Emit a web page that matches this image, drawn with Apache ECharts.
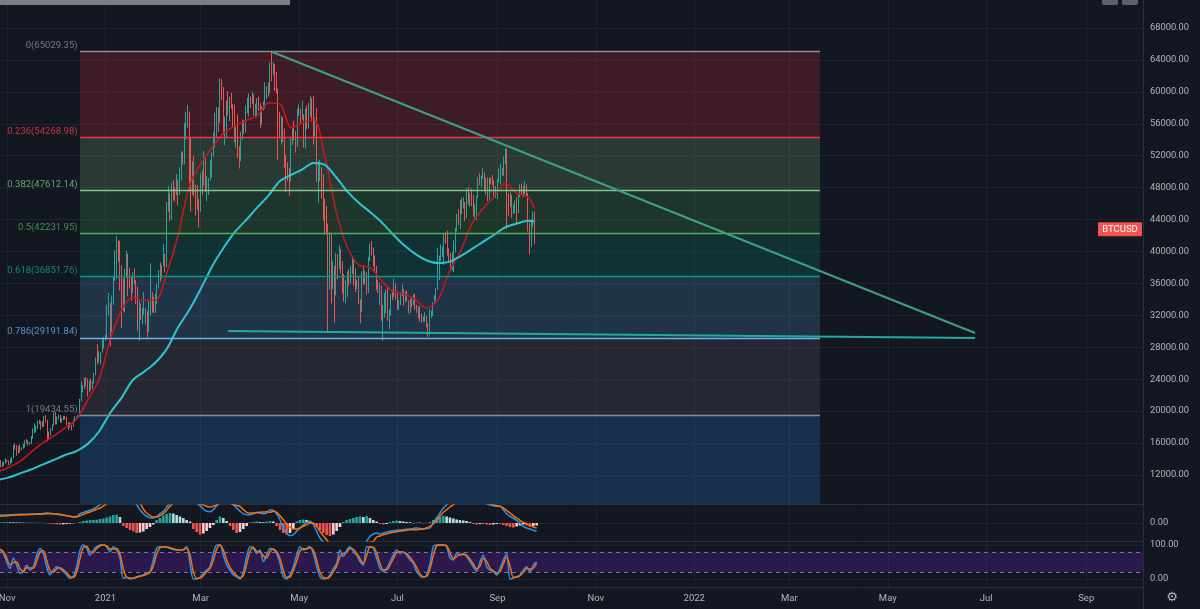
<!DOCTYPE html>
<html><head><meta charset="utf-8">
<script src="https://cdn.jsdelivr.net/npm/echarts@6/dist/echarts.min.js"></script>
<style>html,body{margin:0;padding:0;background:#131722;}#c{width:1200px;height:609px;}</style>
</head><body><div id="c"></div><script>
const DAY = 86400000;
const ts = s => Date.parse(s);

// ---------- DATA ----------
const symbolName = 'BTCUSD';
const candleStart = '2020-10-26T00:00:00Z';   // one row per day: [open, high, low, close]
const candles = [
[13030,13240,12800,13070],[13070,13760,13050,13650],[13650,13860,12950,13270],[13270,13620,12990,13460],[13460,13680,13130,13560],[13560,14100,13430,13800],
[13800,13900,13620,13760],[13760,13820,13200,13550],[13550,14070,13290,14030],[14030,14240,13530,14150],[14150,15770,14100,15590],[15590,15960,15200,15580],[15580,15770,14420,14840],[14840,15650,14700,15480],[15480,15840,14840,15330],[15330,15470,15100,15300],
[15300,15940,15290,15700],[15700,16340,15450,16290],[16290,16480,15970,16330],[16330,16330,15710,16070],[16070,16140,15800,15960],[15960,16880,15870,16720],[16720,17860,16550,17660],[17660,18480,17250,17800],[17800,18170,17350,17820],[17820,18800,17750,18680],
[18680,18960,18360,18720],[18720,18750,17650,18420],[18420,18770,18000,18370],[18370,19420,18030,19160],[19160,19480,18580,18740],[18740,18920,16200,17160],[17160,17450,16520,17140],[17140,17880,16910,17720],[17720,18350,17530,18180],[18180,19850,18180,19700],
[19700,19920,18330,18790],[18790,19340,18350,19220],[19220,19570,18950,19450],[19450,19520,18580,18700],[18700,19170,18530,19150],[19150,19420,18860,19360],[19360,19410,18930,19170],[19170,19290,18220,18320],[18320,18640,17640,18550],[18550,18570,17920,18250],
[18250,18270,17590,18030],[18030,18950,18000,18800],[18800,19400,18720,19170],[19170,19300,19000,19270],[19270,19550,19050,19440],[19440,21540,19300,21350],[21350,23770,21230,22800],[22800,23280,22350,23130],[23130,24170,22760,23860],[23860,24280,23090,23480],
[23480,24100,21840,22730],[22730,23830,22370,23820],[23820,24100,22600,23250],[23250,23780,22750,23720],[23720,24790,23430,24690],[24690,26720,24500,26490],[26490,28420,25860,26280],[26280,27500,26100,27080],[27080,27380,25880,27360],[27360,28990,27320,28880],[28880,29300,27850,28990],
[28990,29600,28800,29410],[29410,33300,29030,32200],[32200,34800,32000,33000],[33000,33600,28130,31990],[31990,34500,29900,33950],[33950,36940,33290,36820],[36820,40180,36300,39370],[39370,41950,36560,40670],[40670,41380,38720,40240],[40240,41350,35110,38240],
[38240,38260,30400,35550],[35550,36600,32530,34000],[34000,37850,32380,37390],[37390,40100,36700,39150],[39150,39700,34400,36770],[36770,37950,35370,36010],[36010,36850,33850,35830],[35830,37400,34800,36630],[36630,37850,35900,35910],[35910,36420,33400,35500],
[35500,35600,30070,30850],[30850,33830,28800,33000],[33000,33470,31400,32090],[32090,32940,30900,32280],[32280,34880,32080,32370],[32370,32950,30840,32580],[32580,32580,29240,30440],[30440,33800,29960,33420],[33420,38530,31990,34310],[34310,34890,32360,34280],[34280,34300,32280,33110],
[33110,34700,32300,33540],[33540,35900,33450,35510],[35510,37650,35390,37470],[37470,38650,36200,36930],[36930,38300,36600,38290],[38290,40940,38200,39260],[39260,39700,37400,38900],[38900,46200,37990,46200],[46200,48200,45000,46500],[46500,47300,43800,44850],
[44850,48600,43950,47970],[47970,48870,46400,47410],[47410,48000,46270,47200],[47200,49700,47050,48630],[48630,49000,45800,47940],[47940,50550,47100,49200],[49200,52550,48900,52150],[52150,52500,50900,51630],[51630,56100,50900,55900],[55900,57500,54000,55920],
[55920,58350,55500,57490],[57490,57500,47700,54200],[54200,54200,45000,48880],[48880,51300,47100,49700],[49700,52000,46900,47100],[47100,48370,44500,46330],[46330,48300,45200,46190],[46190,46600,43000,45140],
[45140,49800,45000,49600],[49600,50200,47050,48440],[48440,52600,48200,50370],[50370,51700,47500,48370],[48370,49400,46300,48750],[48750,49200,47080,48880],[48880,51400,48880,50970],[50970,52400,49300,52390],[52390,54900,51850,54880],[54880,57390,53000,55850],
[55850,58100,54300,57330],[57330,58000,55000,57200],[57200,61700,56100,61180],[61180,61600,59000,59000],[59000,60600,54600,55620],[55620,56900,53300,56900],[56900,58900,54200,58910],[58910,60100,57000,57650],[57650,59400,56300,58320],[58320,59900,57900,58140],
[58140,58500,55700,57360],[57360,58400,53700,54090],[54090,55800,53000,54340],[54340,57200,51700,52300],[52300,53200,50400,51300],[51300,55000,51300,55000],[55000,56500,54000,55840],[55840,56500,54700,55780],[55780,58300,54900,57600],[57600,59300,57300,58780],[58780,59800,56900,58800],
[58800,59400,58000,58730],[58730,60000,58500,58980],[58980,59700,57000,57100],[57100,58500,56800,58200],[58200,59200,56800,59100],[59100,59400,57600,58000],[58000,58600,55500,56100],[56100,58200,55900,58100],[58100,58800,57700,58100],[58100,61200,57900,59800],
[59800,60700,59100,59900],[59900,61200,59400,59800],[59800,63700,59800,63500],[63500,65029,61300,62900],[62900,63700,62100,63200],[63200,63500,60100,61400],[61400,62500,59800,60000],[60000,60400,51500,56200],[56200,57500,54200,55700],[55700,57000,53400,56500],
[56500,56800,53700,53800],[53800,55400,50500,51700],[51700,52100,47500,51100],[51100,51200,48800,50050],[50050,50500,47000,49000],[49000,54300,48800,54000],[54000,55400,53300,55000],[55000,56400,53900,54800],[54800,55100,52400,53500],[53500,57900,53100,57700],
[57700,58400,57000,57800],[57800,57900,56000,56600],[56600,58900,56500,57200],[57200,57200,53000,53200],[53200,57900,52900,57500],[57500,58300,55300,56400],[56400,58600,55400,57300],[57300,59500,56900,58800],[58800,59200,56300,58200],[58200,59500,53400,55800],
[55800,56800,54400,56700],[56700,58000,48700,49400],[49400,51300,46100,49700],[49700,51500,48800,49900],[49900,50600,46600,46800],[46800,49700,43900,46400],[46400,46600,42100,43500],[43500,45700,42300,42900],[42900,43500,30000,37000],[37000,42400,35200,40600],
[40600,42200,33500,37300],[37300,38800,35300,37500],[37500,38200,31100,34700],[34700,39800,34500,38800],[38800,39700,36500,38300],[38300,40800,37800,39300],[39300,40300,37200,38500],[38500,38800,34700,35700],[35700,37200,33700,34600],[34600,36400,33500,35700],[35700,37500,34300,37300],
[37300,37800,35700,36700],[36700,38200,36000,37600],[37600,39400,37200,39200],[39200,39200,35700,36900],[36900,37900,34900,35500],[35500,36400,35300,35800],[35800,36800,33400,33600],[33600,34000,31000,33400],[33400,37500,32400,37300],[37300,38300,35800,36700],
[36700,37600,35900,37300],[37300,37400,34600,35500],[35500,39300,34800,39100],[39100,41000,38800,40500],[40500,41300,39500,40100],[40100,40500,38100,38300],[38300,39500,37400,38100],[38100,38200,35200,35800],[35800,36400,34800,35500],[35500,36100,33300,35600],
[35600,35700,31300,31600],[31600,33300,28800,32500],[32500,34800,31700,33700],[33700,35200,32300,34700],[34700,35500,31300,31600],[31600,32700,30200,32200],[32200,34700,32000,34700],[34700,35200,33900,34500],[34500,36600,34300,35900],[35900,36000,34000,35000],
[35000,35000,32700,33500],[33500,33900,32700,33800],[33800,34900,33300,34700],[34700,35900,34400,35300],[35300,35300,33200,33700],[33700,35000,33600,34200],[34200,35100,33800,33900],[33900,33900,32200,32900],[32900,34100,32300,33800],[33800,34200,33000,33500],
[33500,34600,33300,34300],[34300,34700,32700,33100],[33100,33300,32300,32700],[32700,33100,31600,32800],[32800,33200,31200,31800],[31800,32200,31100,31400],[31400,31900,31200,31500],[31500,32400,31200,31800],[31800,31900,30500,30800],[30800,31000,29300,29800],
[29800,32800,29500,32100],[32100,32600,31700,32300],[32300,33600,31900,33600],[33600,34500,33400,34300],[34300,35400,33900,35400],[35400,40500,35200,37300],[37300,39500,36400,39400],[39400,40900,38800,40000],[40000,40600,39300,40000],[40000,42300,38300,42200],[42200,42400,41000,41600],
[41600,42600,39500,39900],[39900,40400,38700,39200],[39200,39800,37600,38200],[38200,39900,37600,39700],[39700,41400,37400,40900],[40900,43000,39900,42800],[42800,44700,42500,44600],[44600,45300,43300,43800],[43800,46400,42800,46300],[46300,46700,44700,45600],
[45600,46800,45400,45600],[45600,46200,43800,44400],[44400,47900,44200,47800],[47800,48100,45900,47100],[47100,47300,45600,47100],[47100,47900,45700,45900],[45900,47100,44400,44700],[44700,46000,44200,44700],[44700,47000,43900,46800],[46800,49300,46700,49300],
[49300,49800,48300,48900],[48900,49500,48100,49300],[49300,50500,49100,49500],[49500,49900,47600,47700],[47700,49300,47100,48900],[48900,49300,46300,47000],[47000,49200,46500,49100],[49100,49300,48400,48900],[48900,49600,48300,48800],[48800,48900,46900,47000],[47000,48200,46700,47200],
[47200,49100,46600,48800],[48800,50400,48600,49300],[49300,51000,48400,50000],[50000,50500,49500,49900],[49900,51900,49500,51800],[51800,52900,50900,52700],[52700,52900,42800,46900],[46900,47300,44500,46100],[46100,47400,45600,46400],[46400,47100,44200,44900],
[44900,45900,44700,45200],[45200,46400,44800,46100],[46100,46800,43400,44900],[44900,47200,44800,47100],[47100,48400,46800,48200],[48200,48500,47100,47800],[47800,48200,46800,47300],[47300,48800,47100,48300],[48300,48400,46900,47300],[47300,47300,42500,43000],
[43000,43600,39600,40700],[40700,44000,40600,43600],[43600,45000,43100,44900],[44900,45000,40900,42800]
];

// moving averages (plus the last bar)
const maStart = '2020-10-26T00:00:00Z';
const maLastDate = '2021-09-24T00:00:00Z';
const emaFast = [12400,12950,13700,14900,16000,16900,17900,19000,21400,24000,29000,32700,34200,33900,33900,37300,42000,48200,51000,53000,54800,55700,56400,57000,58600,58500,55500,56100,56500,51900,45000,40500,38300,38000,36400,35000,34700,34000,32900,33900,37400,40000,43400,45400,46900,48500,47300,46800,45400];
const maSlow = [11370,11700,12200,12700,13300,13900,14500,15000,15900,17450,19800,21700,23900,24950,26100,27800,30500,32700,35300,38100,40400,42400,43900,45500,47000,48800,49600,50300,51100,50850,49300,47500,46100,44950,43700,42200,40800,39700,38900,38550,38700,39400,40300,41200,42100,43050,43500,43850,43750];

// fibonacci retracement
const fibStartDate = '2020-12-16T05:00:00Z';
const fibEndDate = '2022-03-19T22:00:00Z';
const fibRatios = ['0','0.236','0.382','0.5','0.618','0.786','1'];
const fibPrices = [65029.35,54268.98,47612.14,42231.95,36851.76,29191.84,19434.55];

// trend lines
const trendStart = [['2021-04-14T00:00:00Z',65029.35],['2021-03-17T22:00:00Z',30040]];
const trendEnd   = [['2022-06-24T02:00:00Z',29790],['2022-06-24T02:00:00Z',29160]];

// axis ticks
const priceTicks = [12000,16000,20000,24000,28000,32000,36000,40000,44000,48000,52000,56000,60000,64000,68000];
const xTickDates = ['2020-11-01','2021-01-01','2021-03-01','2021-05-01','2021-07-01','2021-09-01','2021-11-01','2022-01-01','2022-03-01','2022-05-01','2022-07-01','2022-09-01'];
const xTickLabels = ['Nov','2021','Mar','May','Jul','Sep','Nov','2022','Mar','May','Jul','Sep'];
const macdTicks = [0];
const stochTicks = [0,100];
const stochBand = [20,80];

// oscillators, sampled every ~2.07 days from the left edge
const oscStart = '2020-10-27T14:00:00Z';
const oscStepDays = 2.0665;
const macdLine = [770,790,800,815,830,850,870,870,870,880,900,915,930,960,1000,970,930,880,830,780,730,670,600,600,930,1050,1170,1280,1400,1600,1830,2200,2700,3200,3600,3900,4000,3800,3300,2700,2200,1830,1330,930,670,500,500,670,930,1170,1600,2000,2400,2800,3000,3000,2800,2500,2200,1950,1730,1400,1170,1130,1330,1730,2000,2100,2100,2000,1830,1500,1170,930,830,830,930,1070,1000,930,1000,
1330,1270,930,330,-500,-1000,-1270,-1170,-830,-500,-170,70,170,-170,-830,-1500,-1900,-2400,-2900,-3300,-3600,-3800,-3800,-3600,-3400,-3200,-3000,-2700,-2200,-1830,-1330,-1100,-1000,-1100,-1000,-900,-830,-780,-730,-700,-670,-630,-600,-550,-500,-550,-600,-550,-500,0,500,1000,1500,1830,2100,2400,2600,2800,2900,3000,2950,2900,2800,2600,2300,1900,1830,1730,1670,1670,1330,930,670,500,270,0,-330,-500,-600,-730,-830];
const signalLine = [670,700,720,750,770,790,800,815,830,850,860,870,870,900,930,930,930,900,870,800,730,670,600,650,730,870,1000,1100,1230,1370,1500,1700,1930,2300,2700,3000,3300,3400,3400,3200,2800,2300,2000,1400,1000,730,600,600,730,930,1270,1670,2000,2400,2700,2900,2900,2700,2400,2100,1900,1830,1670,1600,1670,1830,2000,2100,2100,2000,1850,1750,1670,1330,1070,1000,1000,1030,1070,1100,1130,
1070,1170,1070,730,330,-70,-400,-600,-600,-500,-330,-170,0,0,-330,-830,-1270,-1670,-2100,-2500,-2900,-3200,-3400,-3400,-3300,-3200,-3000,-2700,-2400,-2100,-1900,-1830,-1400,-1300,-1170,-1080,-1000,-930,-870,-820,-770,-720,-670,-670,-670,-630,-600,-470,-330,-70,270,670,1070,1330,1600,1830,2100,2400,2600,2800,2900,2900,2800,2600,2300,2000,1900,1830,1730,1670,1500,1270,1000,730,500,270,70,-70,-270,-400,-500];
const macdHist = [70,80,90,80,70,60,50,40,40,30,30,20,20,10,-30,-70,-100,-130,-150,-130,-100,-70,-30,-10,100,200,250,280,300,320,400,450,550,650,800,830,600,-300,-500,-700,-850,-1000,-950,-850,-600,-400,-150,300,500,750,900,1000,950,800,650,500,300,150,-600,-900,-1150,-1050,-800,-500,-200,300,650,500,200,-300,-700,-1000,-900,-600,-300,50,100,150,100,80,150,
200,150,-300,-700,-1000,-1150,-1000,-600,150,300,350,300,200,-100,-400,-700,-1000,-1200,-1300,-1150,-800,-400,100,300,400,500,600,650,600,700,500,300,150,-100,-150,-100,100,200,250,200,150,100,80,-50,50,80,-50,30,100,300,500,600,700,650,550,450,350,300,250,200,100,-100,-150,-100,-50,-150,-200,-150,-100,-50,-200,-300,-400,-450,-350,-250,-150,-250,-350,-300,-250];
const stochK = [85,75,51,31,61,41,17,22,41,26,36,70,90,75,36,12,26,36,31,22,12,2,7,36,85,100,90,70,85,95,100,100,95,80,95,85,61,2,5,0,2,7,9,12,17,22,56,90,95,95,93,90,87,85,85,87,95,46,0,0,5,17,26,36,75,100,100,70,41,26,12,7,0,22,66,95,90,75,85,51,70,
90,87,75,46,7,0,12,36,70,95,85,90,95,75,36,7,0,2,12,31,46,85,66,85,95,80,70,51,41,95,95,90,61,31,22,31,51,70,85,75,80,70,56,46,22,9,5,12,46,95,100,100,100,95,61,56,75,70,75,66,51,36,22,51,70,36,26,22,12,31,56,75,0,2,7,12,26,36,22,41,51];
const stochD = [88,80,62,42,48,50,30,22,33,32,32,52,80,84,55,25,20,30,33,27,18,8,5,20,60,92,96,80,78,90,97,100,97,88,88,90,73,30,5,3,2,5,8,10,14,19,38,73,92,95,94,92,89,86,85,86,91,70,22,2,3,10,21,31,55,88,100,85,56,34,20,10,4,10,44,80,93,82,80,68,62,
80,88,80,60,25,5,6,25,52,82,90,88,92,85,55,20,5,2,7,22,38,65,75,78,90,88,75,60,46,70,93,93,76,46,27,27,41,60,78,80,78,75,63,51,34,15,7,8,30,70,97,100,100,98,78,60,66,72,72,70,58,44,30,38,60,52,32,24,17,22,44,65,38,5,5,10,19,31,29,32,46];

// ---------- VIEW / STYLE ----------
const xMin = ts('2020-10-27T14:00:00Z'), xMax = ts('2022-10-06T05:00:00Z');
const priceMin = 8367, priceMax = 71508;
const macdMin = -1800, macdMax = 1800;
const stochMin = -23.5, stochMax = 108.8;

const UP = '#26a69a', DOWN = '#ef5350';
const GRID = '#1f232e', SEP = '#2a2e39', LABEL = '#b2b5be';
const FONT = 'Roboto, "Noto Sans", sans-serif';
const fibLineColors = ['#8a8d97','#f23645','#81c784','#4caf50','#089981','#64b5f6','#8a8d97'];
const fibLabelColors = ['#8c909b','#f23f48','#81c784','#4caf50','#12a38f','#64b5f6','#8c909b'];
const fibFillColors = ['rgba(242,54,69,0.19)','rgba(129,199,132,0.2)','rgba(76,175,80,0.2)','rgba(8,153,129,0.2)','rgba(100,181,246,0.18)','rgba(120,123,134,0.18)','rgba(33,150,243,0.2)'];
const trendColors = ['#3f9e88','#22aaa2'];

// ---------- BUILD ----------
const c0 = ts(candleStart);
const candleData = candles.map((r, i) => [c0 + i * DAY, r[0], r[3], r[2], r[1]]);
const m0 = ts(maStart);
const maTimes = emaFast.map((_, i) => i < emaFast.length - 1 ? m0 + i * 7 * DAY : ts(maLastDate));
const o0 = ts(oscStart);
const oscTimes = macdLine.map((_, i) => o0 + i * oscStepDays * DAY);
const xTickTs = xTickDates.map(d => ts(d + 'T00:00:00Z'));
const fibStart = ts(fibStartDate), fibEnd = ts(fibEndDate);

const zoneEdges = fibPrices.concat([priceMin]);
const fibZones = fibPrices.map((p, i) => [
  { xAxis: fibStart, yAxis: zoneEdges[i], itemStyle: { color: fibFillColors[i] } },
  { xAxis: fibEnd, yAxis: zoneEdges[i + 1] }
]);
const fibLines = fibPrices.map((p, i) => [
  { coord: [fibStart, p], lineStyle: { color: fibLineColors[i], width: 1.3, type: 'solid', opacity: 1 } },
  { coord: [fibEnd, p], lineStyle: { color: fibLineColors[i], width: 1.3, type: 'solid', opacity: 1 } }
]);
const trendData = trendStart.map((s, i) => [
  { coord: [ts(s[0]), s[1]], lineStyle: { color: trendColors[i], width: 2, type: 'solid', opacity: 1 } },
  { coord: [ts(trendEnd[i][0]), trendEnd[i][1]], lineStyle: { color: trendColors[i], width: 2, type: 'solid', opacity: 1 } }
]);

function xAxisCfg(gi, showLabel) {
  return {
    type: 'value', gridIndex: gi, min: xMin, max: xMax, scale: true,
    axisLine: { show: true, onZero: false, lineStyle: { color: SEP } },
    axisTick: { show: false, customValues: xTickTs },
    axisLabel: { show: showLabel, customValues: xTickTs, color: LABEL, fontSize: 9.5, fontFamily: FONT, margin: 7,
      formatter: v => { const k = xTickTs.indexOf(+v); return k >= 0 ? xTickLabels[k] : ''; } },
    splitLine: { show: true, lineStyle: { color: GRID, width: 1 } },
    axisPointer: { show: false }
  };
}
function yAxisCfg(gi, min, max, ticks) {
  return {
    type: 'value', gridIndex: gi, position: 'right', min: min, max: max,
    axisLine: { show: true, onZero: false, lineStyle: { color: SEP } },
    axisTick: { show: false, customValues: ticks },
    axisLabel: { customValues: ticks, color: LABEL, fontSize: 9.3, fontFamily: FONT, margin: 7, formatter: v => Number(v).toFixed(2) },
    splitLine: { show: true, lineStyle: { color: GRID, width: 1 } }
  };
}

const chart = echarts.init(document.getElementById('c'), null, { renderer: 'canvas' });
chart.setOption({
  animation: false,
  backgroundColor: '#131722',
  textStyle: { fontFamily: FONT },
  grid: [
    { left: 0, right: 57, top: 0, height: 504, outerBoundsMode: 'none' },
    { left: 0, right: 57, top: 505, height: 36, outerBoundsMode: 'none' },
    { left: 0, right: 57, top: 542, height: 45, outerBoundsMode: 'none' }
  ],
  xAxis: [xAxisCfg(0, false), xAxisCfg(1, false), xAxisCfg(2, true)],
  yAxis: [yAxisCfg(0, priceMin, priceMax, priceTicks), yAxisCfg(1, macdMin, macdMax, macdTicks), yAxisCfg(2, stochMin, stochMax, stochTicks)],
  series: [
    { name: 'fibZones', type: 'line', xAxisIndex: 0, yAxisIndex: 0, data: [], z: 1, silent: true,
      markArea: { silent: true, data: fibZones } },
    { name: 'fibLevels', type: 'line', xAxisIndex: 0, yAxisIndex: 0, data: [], z: 2, silent: true,
      markLine: { silent: true, symbol: ['none', 'none'], label: { show: false }, emphasis: { disabled: true }, data: fibLines } },
    { name: symbolName, type: 'candlestick', xAxisIndex: 0, yAxisIndex: 0, z: 3, silent: true,
      encode: { x: 0, y: [1, 2, 3, 4] }, data: candleData, barWidth: 1.2,
      itemStyle: { color: UP, color0: DOWN, borderColor: UP, borderColor0: DOWN, borderWidth: 1 } },
    { name: 'ema', type: 'line', xAxisIndex: 0, yAxisIndex: 0, z: 4, silent: true, showSymbol: false, smooth: 0.3,
      data: emaFast.map((v, i) => [maTimes[i], v]), lineStyle: { color: '#c8161c', width: 1.6 } },
    { name: 'ma', type: 'line', xAxisIndex: 0, yAxisIndex: 0, z: 4, silent: true, showSymbol: false, smooth: 0.3,
      data: maSlow.map((v, i) => [maTimes[i], v]), lineStyle: { color: '#2cc5cf', width: 2 } },
    { name: 'trend', type: 'line', xAxisIndex: 0, yAxisIndex: 0, data: [], z: 5, silent: true,
      markLine: { silent: true, symbol: ['none', 'none'], label: { show: false }, emphasis: { disabled: true }, data: trendData } },
    { name: 'fibLabels', type: 'scatter', xAxisIndex: 0, yAxisIndex: 0, z: 6, silent: true, symbolSize: 1,
      itemStyle: { color: 'rgba(0,0,0,0)' },
      data: fibPrices.map((p, i) => ({ value: [fibStart, p], label: { color: fibLabelColors[i] } })),
      label: { show: true, position: 'left', distance: 2, offset: [0, -6], fontSize: 9.5, fontFamily: FONT,
        formatter: p => fibRatios[p.dataIndex] + '(' + fibPrices[p.dataIndex].toFixed(2) + ')' } },
    { name: 'hist', type: 'bar', xAxisIndex: 1, yAxisIndex: 1, silent: true, barWidth: 2.6,
      data: macdHist.map((v, i) => [oscTimes[i], v]),
      itemStyle: { color: p => {
        const v = macdHist[p.dataIndex], prev = p.dataIndex > 0 ? macdHist[p.dataIndex - 1] : v;
        if (v >= 0) return v >= prev ? '#26a69a' : '#b2dfdb';
        return v <= prev ? '#ef5350' : '#ffcdd2';
      } } },
    { name: 'macd', type: 'line', xAxisIndex: 1, yAxisIndex: 1, silent: true, showSymbol: false, smooth: 0.3,
      data: macdLine.map((v, i) => [oscTimes[i], v]), lineStyle: { color: '#2196f3', width: 1.5 } },
    { name: 'signal', type: 'line', xAxisIndex: 1, yAxisIndex: 1, silent: true, showSymbol: false, smooth: 0.3,
      data: signalLine.map((v, i) => [oscTimes[i], v]), lineStyle: { color: '#ff6d00', width: 1.5 } },
    { name: 'band', type: 'line', xAxisIndex: 2, yAxisIndex: 2, data: [], z: 1, silent: true,
      markArea: { silent: true, itemStyle: { color: 'rgba(100,30,180,0.3)' },
        data: [[{ xAxis: xMin, yAxis: stochBand[0] }, { xAxis: xMax, yAxis: stochBand[1] }]] },
      markLine: { silent: true, symbol: ['none', 'none'], label: { show: false }, emphasis: { disabled: true },
        lineStyle: { color: '#7f6fa3', type: [4, 4], width: 1 },
        data: stochBand.map(v => ({ yAxis: v })) } },
    { name: 'K', type: 'line', xAxisIndex: 2, yAxisIndex: 2, z: 3, silent: true, showSymbol: false, smooth: 0.3,
      data: stochK.map((v, i) => [oscTimes[i], v]), lineStyle: { color: '#2196f3', width: 1.5 } },
    { name: 'D', type: 'line', xAxisIndex: 2, yAxisIndex: 2, z: 3, silent: true, showSymbol: false, smooth: 0.3,
      data: stochD.map((v, i) => [oscTimes[i], v]), lineStyle: { color: '#ff6d00', width: 1.5 } }
  ]
});

// price-scale tag and chart chrome
const lastClose = candles[candles.length - 1][3];
const tagY = chart.convertToPixel({ yAxisIndex: 0 }, lastClose);
const axisX = chart.convertToPixel({ xAxisIndex: 0 }, xMax);
chart.setOption({
  graphic: [
    { type: 'rect', shape: { x: 0, y: -2, width: 290, height: 7 }, style: { fill: '#7b7e86' }, silent: true },
    { type: 'rect', shape: { x: 1102, y: -4, width: 16, height: 9, r: 2 }, style: { fill: '#5d606b' }, silent: true },
    { type: 'rect', shape: { x: 1122, y: -4, width: 16, height: 9, r: 2 }, style: { fill: '#5d606b' }, silent: true },
    { type: 'line', shape: { x1: axisX + 0.5, y1: 0, x2: axisX + 0.5, y2: 609 }, style: { stroke: SEP, lineWidth: 1 }, silent: true },
    { type: 'rect', shape: { x: axisX - 45, y: tagY - 7, width: 44, height: 14, r: 1 }, style: { fill: '#f05350' }, silent: true },
    { type: 'text', x: axisX - 23, y: tagY, style: { text: symbolName, fill: '#ffffff', fontSize: 9.5, fontFamily: FONT, align: 'center', verticalAlign: 'middle' }, silent: true },
    { type: 'text', x: 1172, y: 598, style: { text: '⚙', fill: '#b2b5be', fontSize: 13, fontFamily: 'DejaVu Sans', align: 'center', verticalAlign: 'middle' }, silent: true }
  ]
});
</script></body></html>
